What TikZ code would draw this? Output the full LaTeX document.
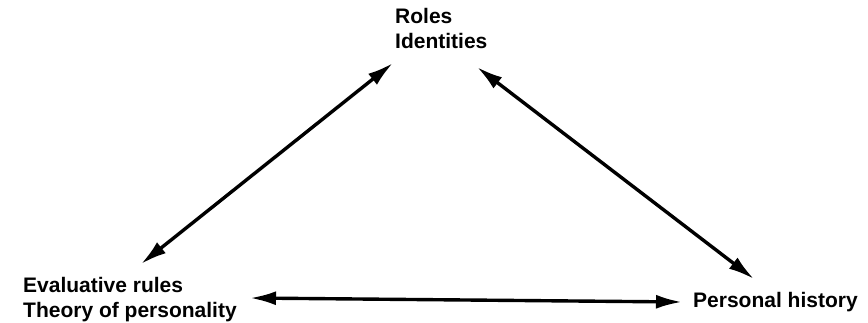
\documentclass[tikz,border=0pt]{standalone}
\usepackage{fontspec}
\setmainfont{Liberation Sans}
\usetikzlibrary{arrows.meta}
\begin{document}
\begin{tikzpicture}[x=1pt,y=-1pt,
  lbl/.style={font=\bfseries\fontsize{21}{24.5}\selectfont, inner sep=0pt, align=left, anchor=base west},
  link/.style={line width=3.4pt,
    {Latex[length=26pt,width=14pt]}-{Latex[length=26pt,width=14pt]}}]
\useasboundingbox (0,0) rectangle (868,322);

% labels (base anchor sits on the last line)
\node[lbl] (roles)   at (395,48)  {Roles\\Identities};
\node[lbl] (rules)   at (23,317)  {Evaluative rules\\Theory of personality};
\node[lbl] (history) at (693,307) {Personal history};

% arrow ends beside the labels
\coordinate (rolesL)   at (393,63);
\coordinate (rolesR)   at (477,67);
\coordinate (rulesT)   at (141,264);
\coordinate (rulesR)   at (250,298);
\coordinate (historyL) at (682,302);
\coordinate (historyT) at (754,279);

% two-way links
\draw[link] (rolesL) -- (rulesT);
\draw[link] (rolesR) -- (historyT);
\draw[link] (rulesR) -- (historyL);
\end{tikzpicture}
\end{document}
